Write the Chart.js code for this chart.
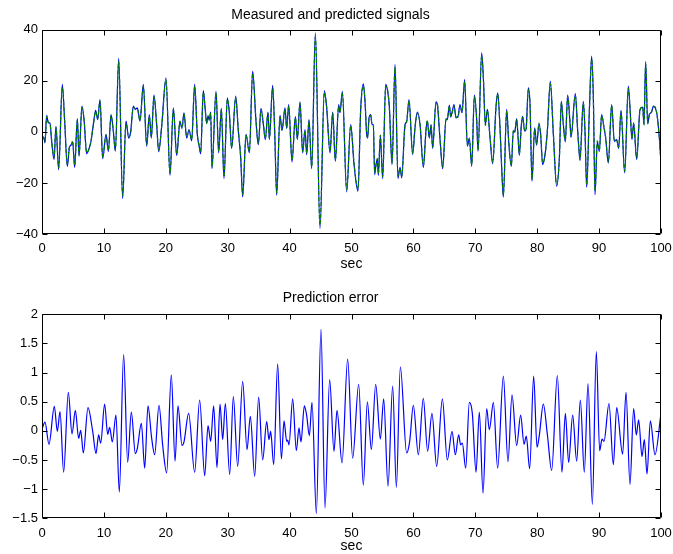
<!DOCTYPE html>
<html>
<head>
<meta charset="utf-8">
<script src="https://cdn.jsdelivr.net/npm/chart.js@4/dist/chart.umd.min.js"></script>
<style>
  body { margin: 0; background: #fff; }
  #wrap { position: relative; width: 673px; height: 554px; }
  canvas { position: absolute; left: 0; }
</style>
</head>
<body>
<div id="wrap">
  <canvas id="top" width="673" height="277" style="top:0"></canvas>
  <canvas id="bottom" width="673" height="277" style="top:277px"></canvas>
</div>
<script>
// measured signal (peaks / troughs / bends)
var sigT = [0, 0.32, 0.48, 0.75, 1.02, 1.29, 1.56, 1.94, 2.26, 2.69, 3.28, 3.66, 4.09, 4.42, 4.74, 4.95, 5.28, 5.71, 5.98, 6.46,
  6.79, 7.22, 7.54, 7.92, 8.29, 8.67, 8.99, 9.37, 9.8, 10.34, 10.72, 11.15, 11.52, 11.85, 12.39, 13.03, 13.57, 14.0, 14.32, 14.75,
  15.08, 15.4, 15.83, 16.37, 16.91, 17.34, 17.66, 18.09, 18.52, 18.85, 19.33, 20.03, 20.68, 21.22, 21.76, 22.29, 22.62, 22.94, 23.37, 23.75,
  24.18, 24.66, 25.09, 25.36, 25.63, 26.06, 26.39, 26.6, 26.82, 27.03, 27.25, 27.46, 28.11, 28.54, 28.97, 29.4, 29.94, 30.26, 30.64, 31.29,
  31.72, 32.1, 32.42, 32.96, 33.5, 34.03, 34.57, 34.95, 35.38, 35.76, 36.08, 36.51, 36.73, 37.26, 37.59, 37.91, 38.45, 38.77, 39.26, 39.53,
  39.85, 40.39, 40.93, 41.25, 41.68, 42.11, 42.49, 42.76, 43.13, 43.57, 44.16, 44.91, 45.61, 45.99, 46.53, 46.96, 47.39, 47.93, 48.14, 48.52,
  49.22, 49.87, 50.41, 51.05, 51.48, 51.91, 52.18, 52.45, 52.61, 52.83, 53.1, 53.31, 53.53, 53.74, 53.96, 54.18, 54.34, 54.66, 55.04, 55.52,
  55.79, 56.11, 56.55, 57.03, 57.51, 57.84, 58.11, 58.65, 58.91, 59.29, 59.88, 60.26, 60.64, 61.07, 61.61, 62.04, 62.25, 62.58, 62.85, 63.11,
  63.65, 63.87, 64.3, 64.73, 65.27, 65.48, 65.81, 66.02, 66.29, 66.56, 66.88, 67.21, 67.53, 67.85, 68.28, 68.72, 69.04, 69.42, 69.85, 70.22,
  70.44, 71.03, 71.3, 71.62, 71.95, 72.38, 72.81, 73.35, 73.62, 73.99, 74.26, 74.53, 75.07, 75.39, 75.82, 76.14, 76.36, 76.68, 76.9, 77.11,
  77.44, 77.65, 77.97, 78.19, 78.57, 78.84, 79.16, 79.59, 79.91, 80.29, 80.56, 80.88, 81.26, 81.64, 82.12, 82.61, 83.14, 83.58, 83.9, 84.22,
  84.54, 84.92, 85.3, 85.46, 86.16, 86.54, 86.7, 86.91, 87.45, 87.72, 87.99, 88.42, 88.8, 89.07, 89.34, 89.71, 90.04, 90.41, 90.79, 91.06,
  91.49, 92.03, 92.46, 92.84, 93.16, 93.54, 94.13, 94.72, 94.99, 95.31, 95.58, 96.07, 96.61, 97.04, 97.25, 97.52, 97.85, 98.11, 98.49, 98.76,
  99.08, 99.4, 99.73, 100];
var measured = [-1.7, -2.4, -4.3, 6.5, 3.5, 3.5, -3.7, -10.8, 2.2, -14.8, 18.6, 4.2, -13.5, -6.3, -5.0, -3.9, -13.9, 5.2, -9.5, 10.1,
  4.8, -8.6, -6.9, -3.7, 2.9, 8.4, 4.8, 12.7, -10.5, -1.0, -7.6, 6.8, 0.3, -7.6, 28.8, -26.1, 4.2, -2.4, 0, 10.1,
  8.8, 9.4, 4.2, 18.6, -5.6, 6.8, -2.4, 14.4, 2.9, -7.8, 2.2, 21.2, -17.0, 9.4, -9.2, 3.9, 1.6, 7.5, -2.4, 0.9,
  -3.5, 18.6, -1.0, -5.0, -8.6, 16.2, 8.1, 3.5, 6.1, 4.8, 7.8, -14.4, 15.9, -8.2, 9.2, -18.3, 13.3, 7.5, -6.5, 14.0,
  0.3, -10.2, -25.5, -1.0, -8.2, 23.8, 4.2, -5.0, 9.2, 2.9, -3.0, 7.8, -3.0, 18.2, 0.3, -24.8, 6.5, 0.5, 9.4, 1.3,
  10.7, -11.8, 6.0, -3.0, 11.8, -8.2, 0.9, -8.9, 4.8, -14.4, 38.8, -37.9, 16.2, 9.4, -8.2, 7.8, -11.5, 10.7, 7.5, 15.9,
  -23.5, 2.9, -12.8, -23.3, 8.8, 18.8, 12.0, -1.0, -2.4, 5.5, 6.8, 2.9, 2.9, -16.7, -12.8, -10.8, -17.0, -1.7, -18.3, 18.6,
  16.6, 10.1, -12.8, 26.4, -18.3, -13.9, -18.0, 2.9, 3.9, 12.7, -8.9, 1.6, 7.8, 2.9, -13.9, 0.9, 4.2, -2.4, 2.9, -6.5,
  11.8, 10.7, -3.0, -14.4, 5.2, 4.8, 10.5, 5.8, 8.1, 10.7, 5.5, 6.1, 10.7, 7.5, 20.5, -5.6, -2.4, -13.5, 14.4, 4.8,
  -7.6, 31.0, 21.2, 2.9, 8.8, -2.4, -12.5, 10.1, 15.3, 1.5, -14.1, -25.6, 8.8, -3.7, -13.5, 0.3, 0.0, 5.2, -1.7, -9.2,
  2.9, 6.1, 0.3, 0.9, 17.3, 10.7, -19.3, 1.6, -5.2, 3.1, -1.0, -12.8, -8.9, 0.3, 19.9, -1.0, -21.3, -10.2, 12.0, 2.9,
  -3.9, 14.4, 3.5, -2.1, 15.0, 0.3, -5.6, -11.2, 12.0, 0.3, -21.7, 8.1, 29.7, 13.3, -24.6, -3.9, -7.6, 6.8, 1.6, -2.4,
  -12.2, 10.7, -3.7, -3.0, -6.5, 8.4, -16.1, 17.9, 9.4, -3.0, 3.5, -10.8, 8.8, 9.7, 2.9, 27.5, 3.1, 6.8, 7.8, 10.1,
  9.4, 6.1, -2.4, -12.2];
// predicted signal (same sample times), nearly on top of the measured one
var predicted = [-1.9, -2.6, -4.0, 6.0, 3.8, 3.2, -3.2, -10.1, 1.7, -14.1, 17.5, 4.6, -12.8, -6.0, -5.3, -3.5, -13.2, 4.6, -9.0, 9.6,
  5.1, -8.1, -7.1, -3.4, 2.6, 7.9, 5.0, 12.1, -10.0, -1.3, -7.1, 6.3, 0.6, -7.1, 27.5, -25.0, 3.6, -2.0, -0.3, 9.6,
  9.1, 9.0, 4.6, 17.8, -5.0, 6.2, -2.0, 13.8, 3.2, -7.2, 1.8, 20.3, -16.3, 8.8, -8.7, 4.2, 1.3, 7.1, -2.0, 0.6,
  -3.0, 17.9, -0.6, -5.3, -8.0, 15.5, 8.5, 3.2, 6.4, 4.5, 7.4, -13.8, 15.2, -7.6, 8.7, -17.6, 12.7, 7.8, -6.0, 13.3,
  0.7, -9.7, -24.6, -1.4, -7.6, 22.9, 4.6, -4.5, 8.7, 3.2, -2.6, 7.4, -2.6, 17.2, 0.7, -23.9, 6.0, 0.9, 8.9, 1.6,
  10.1, -11.2, 5.5, -2.6, 11.2, -7.7, 0.5, -8.4, 4.3, -13.7, 37.1, -36.6, 15.4, 9.8, -7.6, 7.4, -11.0, 10.1, 7.9, 15.2,
  -22.6, 2.5, -12.2, -22.5, 8.2, 18.0, 12.3, -0.6, -2.1, 5.1, 6.5, 3.2, 2.6, -16.0, -13.1, -10.4, -16.3, -1.3, -17.5, 17.8,
  16.9, 9.6, -12.1, 25.3, -17.4, -14.2, -17.4, 2.5, 4.2, 12.1, -8.4, 1.9, 7.3, 3.2, -13.3, 0.6, 4.5, -2.0, 2.6, -6.0,
  11.3, 10.9, -2.6, -13.8, 4.7, 5.1, 10.1, 6.1, 7.8, 10.2, 5.8, 5.8, 10.2, 7.8, 19.7, -5.1, -2.7, -12.9, 13.8, 5.1,
  -7.0, 29.9, 21.6, 2.5, 8.4, -2.0, -11.9, 9.6, 14.7, 1.9, -13.5, -24.6, 8.2, -3.3, -13.0, 0.6, -0.3, 4.8, -1.4, -8.8,
  2.5, 5.8, 0.6, 0.6, 16.6, 11.0, -18.6, 1.2, -4.8, 3.4, -1.3, -12.2, -9.2, 0.6, 19.0, -0.6, -20.5, -10.5, 11.4, 3.2,
  -3.5, 13.8, 3.8, -1.8, 14.3, 0.6, -5.2, -10.6, 11.5, 0.6, -20.9, 7.6, 28.4, 13.6, -23.3, -3.5, -7.3, 6.3, 1.9, -2.1,
  -11.7, 10.2, -3.3, -3.3, -6.1, 8.0, -15.5, 17.2, 9.7, -2.7, 3.2, -10.3, 8.4, 9.9, 2.6, 26.7, 3.4, 6.5, 8.1, 9.8,
  9.7, 5.8, -2.0, -12.5];
// prediction error
var errT = [0, 0.48, 1.13, 1.99, 2.48, 2.91, 3.5, 4.25, 4.85, 5.39, 5.92, 6.25, 6.68, 7.43, 8.19, 8.72, 9.15, 9.48, 10.12, 10.61,
  10.93, 11.36, 11.95, 12.49, 13.19, 13.84, 14.43, 15.08, 15.4, 16.05, 16.59, 17.12, 17.72, 18.2, 18.9, 19.5, 20.14, 20.89, 21.49, 21.97,
  22.62, 22.94, 23.69, 24.66, 25.47, 26.28, 26.82, 27.25, 27.73, 28.27, 28.76, 29.19, 29.62, 30.32, 30.91, 31.61, 32.42, 33.12, 33.66, 34.36,
  35.0, 35.65, 36.3, 36.67, 36.94, 37.43, 38.07, 38.67, 39.1, 39.53, 39.7, 39.9, 40.5, 41.09, 41.52, 41.84, 42.38, 42.75, 43.19, 43.62,
  44.32, 45.07, 45.72, 46.47, 47.17, 47.66, 48.47, 49.38, 50.19, 51.16, 51.91, 52.56, 53.21, 53.91, 54.66, 55.2, 55.9, 56.65, 57.25, 57.89,
  58.91, 59.4, 59.99, 60.8, 61.6, 62.3, 63.0, 63.76, 64.68, 65.48, 66.24, 66.78, 67.31, 67.63, 67.9, 68.45, 69.04, 69.52, 70.12, 70.65,
  71.25, 71.84, 72.27, 72.92, 73.61, 74.53, 75.28, 75.93, 76.68, 77.33, 77.87, 78.24, 78.78, 79.43, 79.97, 80.35, 80.99, 81.65, 82.34, 83.25,
  84.0, 84.55, 85.08, 85.73, 86.38, 86.97, 87.61, 88.21, 88.91, 89.55, 90.09, 90.47, 90.79, 91.6, 92.3, 92.84, 93.8, 94.35, 94.99, 95.58,
  96.01, 96.39, 96.93, 97.31, 97.74, 98.28, 99.03, 100];
var errV = [0.03, 0.15, -0.23, 0.42, -0.01, 0.33, -0.71, 0.66, -0.05, 0.35, -0.13, 0.01, -0.38, 0.40, -0.01, -0.39, -0.07, -0.21, 0.46, -0.06,
  0.06, -0.19, 0.27, -1.05, 1.31, -0.54, 0.32, -0.39, -0.30, 0.13, -0.64, 0.43, -0.13, -0.41, 0.44, -0.25, -0.72, 0.96, -0.52, 0.43,
  -0.25, -0.19, 0.30, -0.71, 0.53, -0.77, 0.09, -0.18, 0.43, -0.63, 0.46, -0.15, 0.47, -0.75, 0.59, -0.61, 0.85, -0.32, 0.25, -0.78,
  0.58, -0.50, 0.16, -0.15, -0.01, -0.58, 1.15, -0.48, 0.17, -0.18, -0.16, -0.24, 0.55, -0.34, 0.05, -0.19, 0.43, 0.27, -0.08, 0.49,
  -1.42, 1.74, -1.32, 0.88, -0.35, 0.35, -0.55, 1.23, -0.47, 0.80, -0.93, 0.50, -0.32, 0.80, -0.14, 0.55, -0.95, 0.77, -0.97, 1.10,
  -0.38, -0.18, 0.44, -0.41, 0.56, -0.35, 0.30, -0.61, 0.55, -0.50, -0.01, -0.41, -0.07, -0.24, -0.21, -0.64, 0.49, 0.30, -0.71, 0.32,
  -1.07, 0.38, 0.02, 0.49, -0.64, 0.94, -0.53, 0.62, -0.25, 0.27, -0.23, -0.09, -0.65, 0.94, -0.28, -0.07, 0.46, -0.07, -0.68, 0.95,
  -0.71, 0.30, -0.54, 0.27, -0.52, 0.53, -0.71, 0.81, -1.26, 1.36, -0.34, -0.14, -0.18, 0.47, -0.58, 0.40, -0.40, 0.66, -0.92, 0.38,
  -0.07, 0.19, -0.44, -0.15, -0.74, 0.17, -0.41, 0.30];

var xTicks = [0, 10, 20, 30, 40, 50, 60, 70, 80, 90, 100];

var FONT = 'Liberation Sans, Arial, Helvetica, sans-serif';

function pts(xs, ys) {
  return xs.map(function (x, i) { return { x: x, y: ys[i] }; });
}

function minusSign(v) {
  return String(v).replace('-', '\u2212');
}

// box round the axes and MATLAB-style inward ticks on all four sides
var boxPlugin = {
  id: 'box',
  afterDraw: function (chart) {
    var ctx = chart.ctx, a = chart.chartArea;
    var xs = chart.scales.x, ys = chart.scales.y;
    var L = Math.round(a.left) + 0.5, R = Math.round(a.right) - 0.5;
    var T = Math.round(a.top) + 0.5, B = Math.round(a.bottom) - 0.5;
    ctx.save();
    ctx.strokeStyle = '#000';
    ctx.lineWidth = 1;
    ctx.beginPath();
    ctx.rect(L, T, R - L, B - T);
    xs.ticks.forEach(function (tk) {
      var px = Math.round(xs.getPixelForValue(tk.value)) + 0.5;
      ctx.moveTo(px, B); ctx.lineTo(px, B - 5);
      ctx.moveTo(px, T); ctx.lineTo(px, T + 5);
    });
    ys.ticks.forEach(function (tk) {
      var py = Math.round(ys.getPixelForValue(tk.value)) + 0.5;
      ctx.moveTo(L, py); ctx.lineTo(L + 5, py);
      ctx.moveTo(R, py); ctx.lineTo(R - 5, py);
    });
    ctx.stroke();
    ctx.restore();
  }
};

function makeChart(id, datasets, o) {
  return new Chart(document.getElementById(id), {
    type: 'line',
    data: { datasets: datasets },
    plugins: [boxPlugin],
    options: {
      responsive: false,
      animation: false,
      devicePixelRatio: 1,
      layout: { padding: { left: 0, right: 12, top: 0, bottom: 0 } },
      plugins: {
        legend: { display: false },
        tooltip: { enabled: false },
        title: {
          display: true, text: o.title, color: '#000',
          font: { family: FONT, size: 14, weight: 'normal' },
          padding: o.titlePad
        }
      },
      scales: {
        x: {
          type: 'linear', min: 0, max: 100,
          afterBuildTicks: function (s) { s.ticks = xTicks.map(function (v) { return { value: v }; }); },
          afterFit: function (s) { s.height = o.xHeight; s.paddingLeft = 0; s.paddingRight = 0; },
          grid: { display: false, drawTicks: false },
          border: { display: false },
          ticks: { color: '#000', padding: 7, maxRotation: 0, autoSkip: false, font: { family: FONT, size: 13 } },
          title: {
            display: true, text: 'sec', color: '#000',
            font: { family: FONT, size: 14, lineHeight: 1 },
            padding: { top: 0, bottom: o.secPad }
          }
        },
        y: {
          min: o.yMin, max: o.yMax,
          afterBuildTicks: function (s) { s.ticks = o.yTicks.map(function (v) { return { value: v }; }); },
          afterFit: function (s) { s.width = 42; s.paddingTop = 0; s.paddingBottom = 0; },
          grid: { display: false, drawTicks: false },
          border: { display: false },
          ticks: { color: '#000', padding: 4, callback: minusSign, font: { family: FONT, size: 13 } }
        }
      }
    }
  });
}

var lineOpts = { pointRadius: 0, borderWidth: 1.2, fill: false, cubicInterpolationMode: 'monotone' };

makeChart('top', [
  Object.assign({ label: 'predicted', data: pts(sigT, predicted), borderColor: '#008000', borderDash: [4, 2], order: 0 }, lineOpts),
  Object.assign({ label: 'measured', data: pts(sigT, measured), borderColor: '#0000ff', order: 1 }, lineOpts)
], {
  title: 'Measured and predicted signals',
  titlePad: { top: 7, bottom: 6 },
  xHeight: 43, secPad: 6,
  yMin: -40, yMax: 40, yTicks: [-40, -20, 0, 20, 40]
});

makeChart('bottom', [
  Object.assign({ label: 'error', data: pts(errT, errV), borderColor: '#0000ff' }, lineOpts)
], {
  title: 'Prediction error',
  titlePad: { top: 12.5, bottom: 8 },
  xHeight: 35.7, secPad: 1,
  yMin: -1.5, yMax: 2, yTicks: [-1.5, -1, -0.5, 0, 0.5, 1, 1.5, 2]
});
</script>
</body>
</html>
